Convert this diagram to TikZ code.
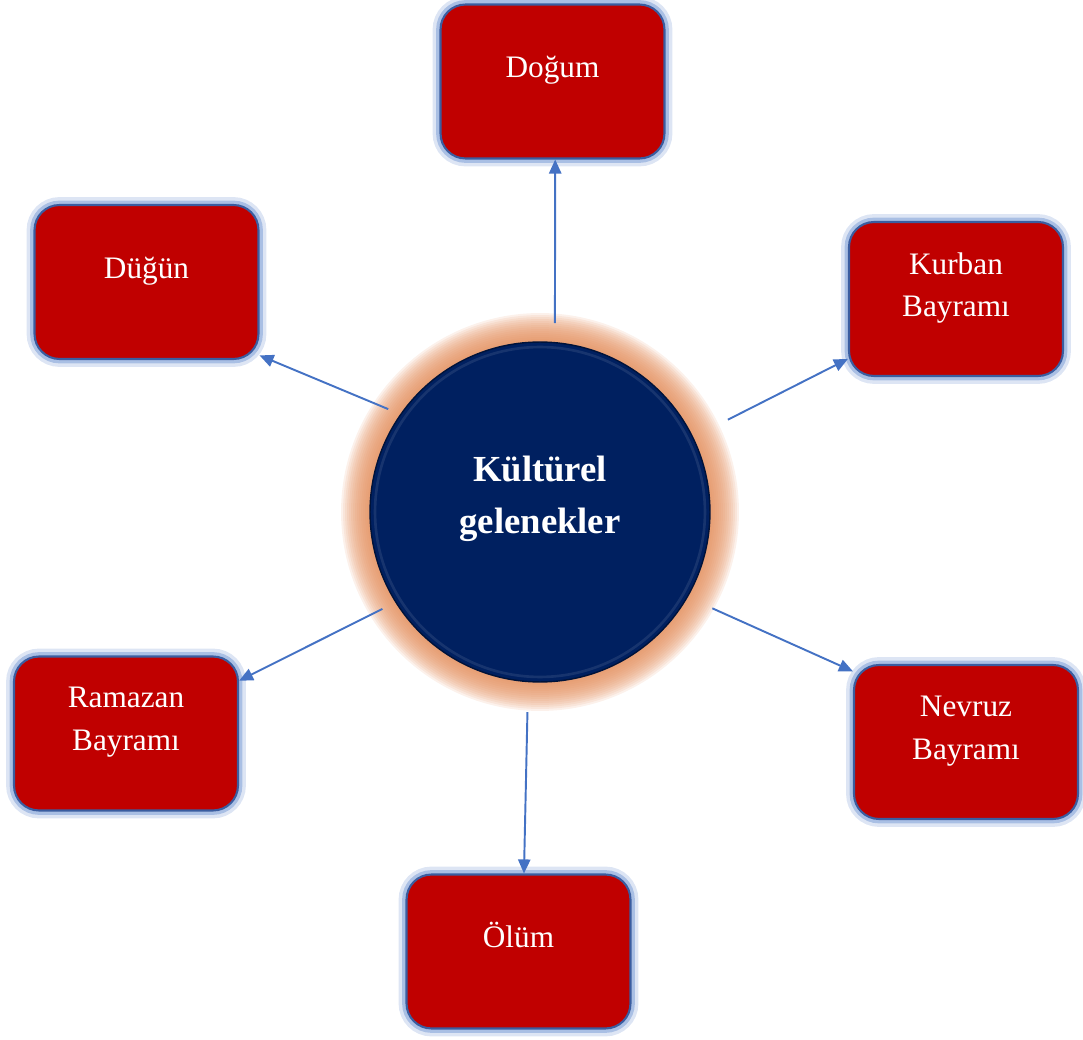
\documentclass[tikz,border=0pt]{standalone}
\usepackage{fontspec}
\setmainfont{Liberation Serif}
\usetikzlibrary{arrows.meta,calc}
\definecolor{boxred}{HTML}{C00000}
\definecolor{boxline}{HTML}{3A5DA0}
\definecolor{glowblue}{HTML}{8EAADB}
\definecolor{arrowblue}{HTML}{4472C4}
\definecolor{navy}{HTML}{002060}
\definecolor{gloworange}{HTML}{E38E5C}
\tikzset{
    box/.style={draw=boxline, line width=1.2pt, fill=boxred, rounded corners=0.5cm,
        minimum width=4.48cm, minimum height=3.08cm,
        preaction={draw=glowblue, line width=9pt, opacity=0.3},
        preaction={draw=glowblue, line width=5pt, opacity=0.65}},
    boxtext/.style={text=white, align=center, font=\fontsize{17.8}{24.4}\selectfont},
    centertext/.style={text=white, align=center, font=\bfseries\fontsize{20.9}{29.5}\selectfont},
    arr/.style={draw=arrowblue, line width=1.1pt, -{Triangle[length=8pt,width=7pt]}}
}

\begin{document}
\begin{tikzpicture}[x=0.02cm, y=-0.02cm]
    \useasboundingbox (0,0) rectangle (1083,1040);
    \coordinate (mid) at (540,512);
    % orange glow round the centre
    \foreach \r in {3.98,3.94,...,3.42}
        \fill[gloworange, opacity=0.12] (mid) circle (\r cm);
    \node[circle, fill=navy, draw=navy!60!black, line width=0.8pt, minimum size=6.8cm] (kc) at (mid) {};
    \draw[navy!50!white, opacity=0.18, line width=1.5pt] (mid) circle (3.3cm);
    \node[centertext] (kc-t) at ([yshift=0.27cm]kc.center) {Kültürel\\gelenekler};

    \node[box] (dogum) at (552.5,81.5) {};
    \node[box] (dugun) at (146.5,282) {};
    \node[box, minimum width=4.28cm] (kurban) at (956,299) {};
    \node[box] (ramazan) at (126,733.5) {};
    \node[box] (nevruz) at (966,742) {};
    \node[box] (olum) at (518.5,951.5) {};

    \node[boxtext] (dogum-t) at ([yshift=0.22cm]dogum.center) {Doğum};
    \node[boxtext] (dugun-t) at ([yshift=0.22cm]dugun.center) {Düğün};
    \node[boxtext] (kurban-t) at ([yshift=0.22cm]kurban.center) {Kurban\\Bayramı};
    \node[boxtext] (ramazan-t) at ([yshift=0.22cm]ramazan.center) {Ramazan\\Bayramı};
    \node[boxtext] (nevruz-t) at ([yshift=0.22cm]nevruz.center) {Nevruz\\Bayramı};
    \node[boxtext] (olum-t) at ([yshift=0.33cm]olum.center) {Ölüm};

    \draw[arr, shorten <=10.8pt] (kc.85) -- (dogum.-88);
    \draw[arr, shorten <=7.4pt] (kc.145) -- (dugun.-33);
    \draw[arr, shorten <=22pt] (kc.26) -- (kurban.209);
    \draw[arr, shorten <=8.2pt] (kc.212) -- (ramazan.25);
    \draw[arr, shorten <=15.3pt] (kc.-30) -- (nevruz.148);
    \draw[arr, shorten <=17pt] (kc.-94) -- (olum.86);
\end{tikzpicture}
\end{document}
